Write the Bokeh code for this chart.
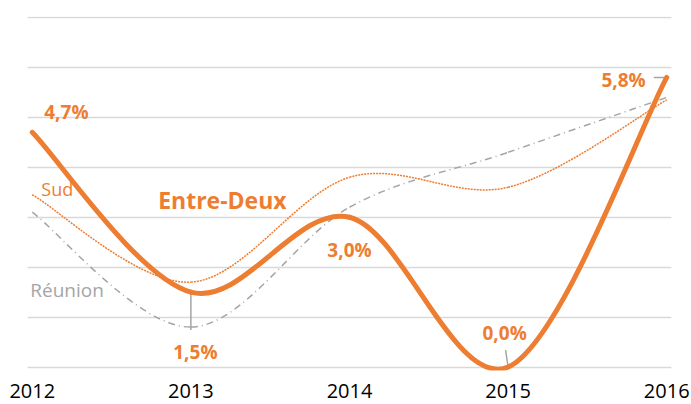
import math
from bokeh.plotting import figure
from bokeh.models import ColumnDataSource, Range1d, FixedTicker, Grid
from bokeh.core.properties import value
from bokeh.embed import file_html
from bokeh.resources import INLINE

# ---- data ----
years = [2012, 2013, 2014, 2015, 2016]
tick_labels = ["2012", "2013", "2014", "2015", "2016"]
entre_deux = [4.7, 1.5, 3.0, 0.0, 5.8]
sud = [3.45, 1.7, 3.8, 3.6, 5.35]
reunion = [3.1, 0.8, 3.2, 4.3, 5.4]
entre_deux_labels = ["4,7%", "1,5%", "3,0%", "0,0%", "5,8%"]
grid_values = [0, 1, 2, 3, 4, 5, 6, 7]

ORANGE = "#ED7D31"
GREY = "#A5A5A5"
FONT = "Open Sans"


def smooth_source(xs, ys):
    """Bezier segments for a smoothed line through the points (Excel-like)."""
    n = len(xs)
    d = dict(x0=[], y0=[], x1=[], y1=[], cx0=[], cy0=[], cx1=[], cy1=[])
    for i in range(n - 1):
        pm = max(i - 1, 0)
        pp = min(i + 2, n - 1)
        d["x0"].append(xs[i]); d["y0"].append(ys[i])
        d["x1"].append(xs[i + 1]); d["y1"].append(ys[i + 1])
        d["cx0"].append(xs[i] + (xs[i + 1] - xs[pm]) / 6.0)
        d["cy0"].append(ys[i] + (ys[i + 1] - ys[pm]) / 6.0)
        d["cx1"].append(xs[i + 1] - (xs[pp] - xs[i]) / 6.0)
        d["cy1"].append(ys[i + 1] - (ys[pp] - ys[i]) / 6.0)
    return ColumnDataSource(d)


p = figure(width=691, height=404, output_backend="svg", toolbar_location=None,
           x_range=Range1d(2011.97, 2016.03), y_range=Range1d(-0.07, 7.02),
           y_axis_location=None, min_border_left=27, min_border_right=20,
           min_border_top=16, min_border_bottom=34)
p.outline_line_color = None
p.xgrid.visible = False
p.add_layout(Grid(dimension=1, ticker=FixedTicker(ticks=grid_values),
                  grid_line_color="#D9D9D9", grid_line_width=1.5))

ax = p.xaxis[0]
ax.ticker = FixedTicker(ticks=years)
ax.major_label_overrides = {y: l for y, l in zip(years, tick_labels)}
ax.axis_line_color = None
ax.major_tick_line_color = None
ax.minor_tick_line_color = None
ax.major_tick_out = 0
ax.major_label_standoff = 13
ax.major_label_text_font = FONT
ax.major_label_text_font_size = "20px"
ax.major_label_text_color = "#000000"

# series
p.bezier(x0="x0", y0="y0", x1="x1", y1="y1", cx0="cx0", cy0="cy0", cx1="cx1", cy1="cy1",
         source=smooth_source(years, reunion), line_color=GREY, line_width=1.5,
         line_dash="7 4 1 4")
p.bezier(x0="x0", y0="y0", x1="x1", y1="y1", cx0="cx0", cy0="cy0", cx1="cx1", cy1="cy1",
         source=smooth_source(years, sud), line_color=ORANGE, line_width=1.5,
         line_dash="2 1")

# leader lines
p.ray(x=[years[1]], y=[entre_deux[1]], length=38, angle=-math.pi / 2,
      length_units="screen", line_color=GREY, line_width=1.5)
p.ray(x=[years[3]], y=[entre_deux[3]], length=17, angle=math.radians(98.6),
      length_units="screen", line_color=GREY, line_width=1.5)
p.ray(x=[years[4]], y=[entre_deux[4]], length=13, angle=math.pi,
      length_units="screen", line_color=GREY, line_width=1.5)

p.bezier(x0="x0", y0="y0", x1="x1", y1="y1", cx0="cx0", cy0="cy0", cx1="cx1", cy1="cy1",
         source=smooth_source(years, entre_deux), line_color=ORANGE, line_width=5,
         line_cap="round")

# data labels
lab = ColumnDataSource(dict(
    x=years, y=entre_deux, text=entre_deux_labels,
    dx=[12, 4.5, 0, -3.5, -21], dy=[-20, 59.5, 33, -34.5, 3],
    align=["left", "center", "center", "center", "right"]))
p.text(x="x", y="y", text="text", x_offset="dx", y_offset="dy", text_align="align",
       text_baseline="middle", source=lab, text_color=ORANGE,
       text_font=value(FONT), text_font_size=value("19px"), text_font_style="bold")

# series names
p.text(x=[years[1]], y=[entre_deux[1]], text=["Entre-Deux"], x_offset=31.5, y_offset=-92.6,
       text_align="center", text_baseline="middle", text_color=ORANGE,
       text_font=value(FONT), text_font_size=value("23px"), text_font_style="bold")
p.text(x=[years[0]], y=[sud[0]], text=["Sud"], x_offset=9, y_offset=-6,
       text_align="left", text_baseline="middle", text_color=ORANGE,
       text_font=value(FONT), text_font_size=value("18px"))
p.text(x=[years[0]], y=[reunion[0]], text=["Réunion"], x_offset=-2, y_offset=78,
       text_align="left", text_baseline="middle", text_color=GREY,
       text_font=value(FONT), text_font_size=value("19px"))

open("out.html", "w").write(file_html(p, INLINE))
